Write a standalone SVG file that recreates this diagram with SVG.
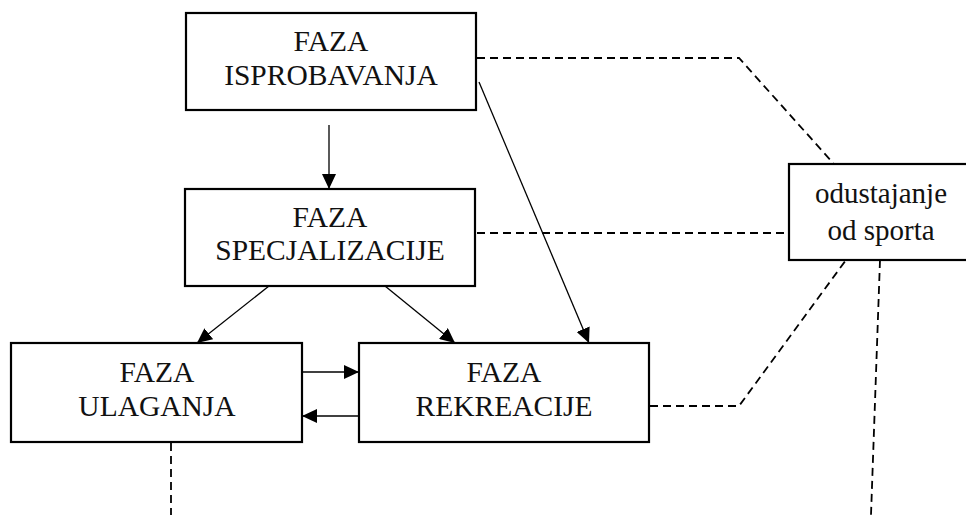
<svg xmlns="http://www.w3.org/2000/svg" width="966" height="515" viewBox="0 0 966 515">
<style>
.box{fill:#fff;stroke:#000;stroke-width:2.2}
.t{font-family:"Liberation Serif","Times New Roman",serif;font-size:29.5px;fill:#111;text-anchor:middle}
.s{font-size:29px}
.c{fill:none;stroke:#000;stroke-width:1.3}
.d{fill:none;stroke:#000;stroke-width:1.8;stroke-dasharray:8 5}
</style>
<defs>
<marker id="ah" markerWidth="15" markerHeight="14" refX="15" refY="7" orient="auto" markerUnits="userSpaceOnUse">
<path d="M0,0 L15,7 L0,14 Z" fill="#000"/>
</marker>
</defs>
<rect width="966" height="515" fill="#fff"/>
<g id="connectors">
<line class="c" x1="329" y1="125" x2="329" y2="189" marker-end="url(#ah)"/>
<line class="c" x1="269" y1="286" x2="197" y2="343" marker-end="url(#ah)"/>
<line class="c" x1="385" y1="286" x2="455" y2="343" marker-end="url(#ah)"/>
<line class="c" x1="479" y1="82" x2="589" y2="343" marker-end="url(#ah)"/>
<line class="c" x1="302" y1="372" x2="359" y2="372" marker-end="url(#ah)"/>
<line class="c" x1="359" y1="416" x2="302" y2="416" marker-end="url(#ah)"/>
<polyline class="d" points="477,58 739,58 834,164"/>
<line class="d" x1="477" y1="233" x2="789" y2="233"/>
<polyline class="d" points="650,406 739,406 846,260"/>
<line class="d" x1="880" y1="260" x2="871" y2="515"/>
<line class="d" x1="171" y1="443" x2="171" y2="515"/>
</g>
<g id="n1">
<rect class="box" x="186" y="13" width="290" height="97"/>
<text class="t" x="331" y="51">FAZA</text>
<text class="t" x="331" y="85">ISPROBAVANJA</text>
</g>
<g id="n2">
<rect class="box" x="185" y="189" width="290" height="97"/>
<text class="t" x="330" y="227">FAZA</text>
<text class="t" x="330" y="260">SPECJALIZACIJE</text>
</g>
<g id="n3">
<rect class="box" x="11" y="343" width="291" height="99"/>
<text class="t" x="157" y="382">FAZA</text>
<text class="t" x="157" y="416">ULAGANJA</text>
</g>
<g id="n4">
<rect class="box" x="359" y="343" width="290" height="99"/>
<text class="t" x="504" y="382">FAZA</text>
<text class="t" x="504" y="416">REKREACIJE</text>
</g>
<g id="n5">
<rect class="box" x="789" y="164" width="185" height="96"/>
<text class="t s" x="881" y="203">odustajanje</text>
<text class="t s" x="881" y="240">od sporta</text>
</g>
</svg>
